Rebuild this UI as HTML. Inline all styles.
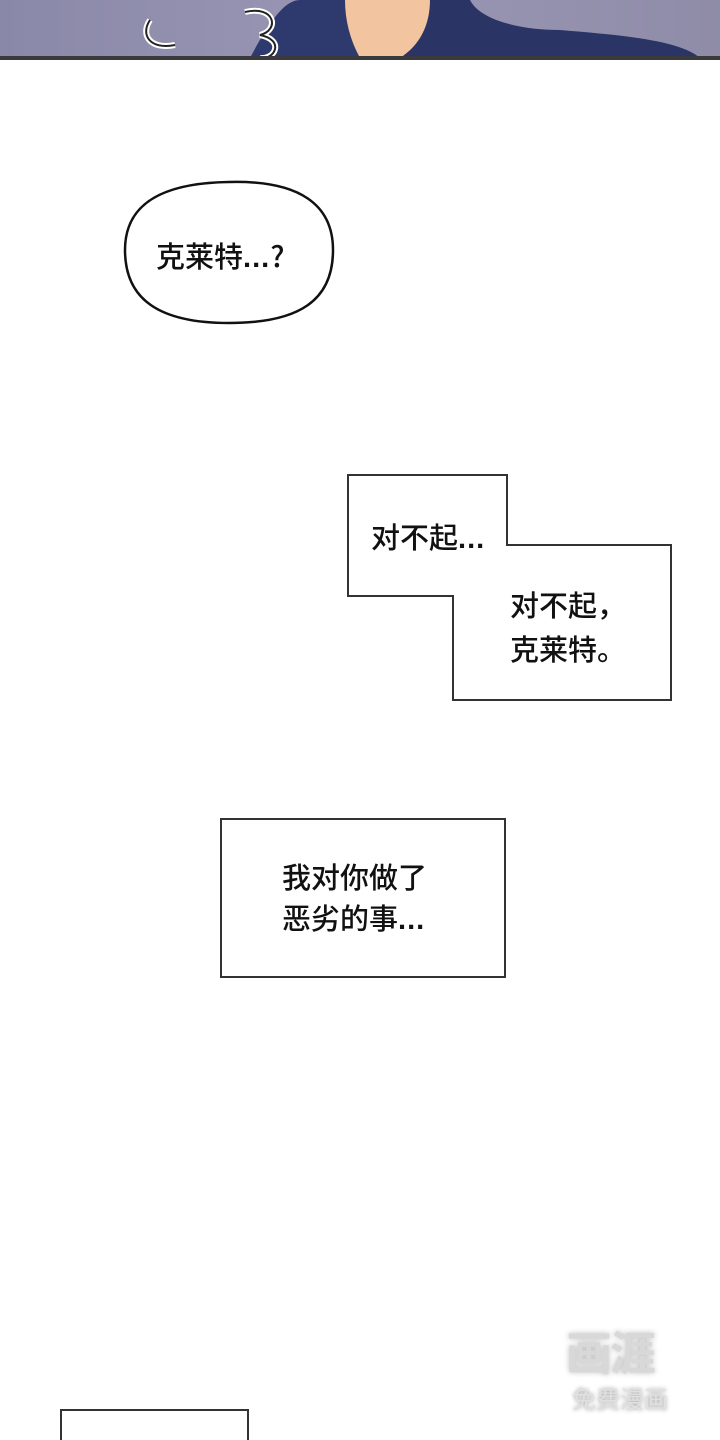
<!DOCTYPE html>
<html><head><meta charset="utf-8"><style>
html,body{margin:0;padding:0;background:#fff}
body{width:720px;height:1440px;position:relative;overflow:hidden;font-family:"Noto Sans CJK SC","Liberation Sans",sans-serif}
.t{position:absolute;font-size:29px;font-weight:500;color:#111;line-height:44px;white-space:nowrap}
.d{font-family:"Liberation Sans",sans-serif;font-weight:bold;letter-spacing:1px}
</style></head><body>
<svg width="720" height="1440" style="position:absolute;left:0;top:0">
<defs><linearGradient id="bg" x1="0" x2="1"><stop offset="0" stop-color="#8a88a8"/><stop offset="0.5" stop-color="#9a97b5"/><stop offset="1" stop-color="#8f8ca8"/></linearGradient></defs>
<rect x="0" y="0" width="720" height="58" fill="url(#bg)"/>
<path d="M250 58 C270 20 285 0 300 0 L345 0 C350 30 380 50 420 58 Z" fill="#2e3a6e"/>
<path d="M345 0 L430 0 C430 25 420 45 400 58 L360 58 C350 40 345 20 345 0Z" fill="#f2c4a0"/>
<path d="M430 0 L470 0 C480 20 520 30 560 30 C620 35 680 40 700 58 L400 58 C420 45 430 25 430 0Z" fill="#2a3566"/>
<path d="M150 20 C140 35 150 50 175 45" stroke="#fff" stroke-width="6" fill="none"/>
<path d="M150 20 C140 35 150 50 175 45" stroke="#222" stroke-width="2" fill="none"/>
<path d="M245 12 C275 5 280 30 260 35 C285 40 275 60 260 58" stroke="#fff" stroke-width="6" fill="none"/>
<path d="M245 12 C275 5 280 30 260 35 C285 40 275 60 260 58" stroke="#222" stroke-width="2" fill="none"/>
<rect x="0" y="56" width="720" height="4" fill="#3a3a3c"/>
<path d="M229 182 C300 180 333 205 333 250 C333 300 300 323 229 323 C160 323 125 300 125 250 C125 205 160 183 229 182Z" fill="#fff" stroke="#111" stroke-width="2.5"/>
<polygon points="348,475 507,475 507,545 671,545 671,700 453,700 453,596 348,596" fill="#fff" stroke="#333" stroke-width="2"/>
<rect x="221" y="819" width="284" height="158" fill="#fff" stroke="#333" stroke-width="2"/>
<rect x="61" y="1410" width="187" height="40" fill="#fff" stroke="#333" stroke-width="2"/>
</svg>
<div class="t" style="left:156px;top:233px">克莱特<span class="d">...</span>?</div>
<div class="t" style="left:371px;top:514px">对不起<span class="d">...</span></div>
<div class="t" style="left:510px;top:582px;line-height:44px">对不起，<br>克莱特。</div>
<div class="t" style="left:282px;top:856px;line-height:41px">我对你做了<br>恶劣的事<span class="d">...</span></div>
<div style="position:absolute;left:566px;top:1318px;font-size:46px;font-weight:bold;color:#d8d8d8;text-shadow:0 0 6px #bbb;letter-spacing:-2px">画涯</div>
<div style="position:absolute;left:572px;top:1380px;font-size:24px;color:#e0e0e0;text-shadow:0 0 4px #999">免费漫画</div>
</body></html>
